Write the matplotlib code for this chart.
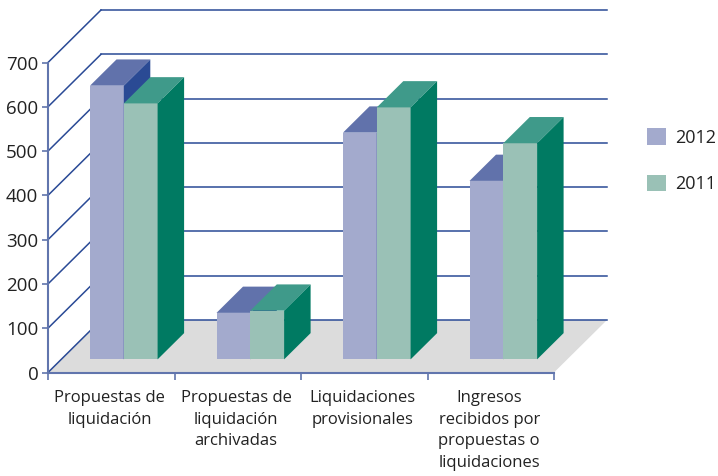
import matplotlib
matplotlib.use("Agg")
import matplotlib.pyplot as plt
from matplotlib.patches import Polygon, Patch

plt.rcParams['font.family'] = ['Open Sans', 'DejaVu Sans']

CATEGORIES = [
    "Propuestas de\nliquidación",
    "Propuestas de\nliquidación\narchivadas",
    "Liquidaciones\nprovisionales",
    "Ingresos\nrecibidos por\npropuestas o\nliquidaciones",
]
VALUES_2012 = [618, 105, 512, 403]
VALUES_2011 = [578, 110, 569, 488]
Y_TICKS = [0, 100, 200, 300, 400, 500, 600, 700]

FIG_W, FIG_H = 718, 476
LEFT, RIGHT, BOTTOM, TOP = 48.0, 554.0, 372.5, 62.5

# depth of the fake 3d box, in data units
PX_X = (RIGHT - LEFT) / 4
PX_Y = (BOTTOM - TOP) / 700
DEPTH_X = 53 / PX_X
DEPTH_Y = 52.5 / PX_Y

BAR_W = 33.8 / PX_X
BAR_START = (42 - 13.25) / PX_X

AXIS_BLUE = "#6175ad"
GRID_BLUE = "#2a4a96"
TEXT = "#222222"

STYLE_2012 = ("#a3aacd", "#6172ab", "#2a4a94")
STYLE_2011 = ("#9ac1b6", "#3f9a8a", "#007a62")


def shift(x, y, d):
    return x + d * DEPTH_X, y + d * DEPTH_Y


def draw_bar(ax, x, value, colors, z):
    front, top, side = colors
    d0, d1 = 0.25, 0.75
    x0, y0 = shift(x, 0, d0)
    x1 = x0 + BAR_W
    y1 = y0 + value
    xb0, yb0 = shift(x, 0, d1)
    xb1 = xb0 + BAR_W
    yb1 = yb0 + value
    ax.add_patch(Polygon([(x0, y0), (x1, y0), (x1, y1), (x0, y1)], fc=front, ec="none", zorder=z, clip_on=False))
    ax.add_patch(Polygon([(x0, y1), (x1, y1), (xb1, yb1), (xb0, yb1)], fc=top, ec="none", zorder=z, clip_on=False))
    ax.add_patch(Polygon([(x1, y0), (xb1, yb0), (xb1, yb1), (x1, y1)], fc=side, ec="none", zorder=z, clip_on=False))


fig = plt.figure(figsize=(FIG_W / 100, FIG_H / 100), dpi=100)
ax = fig.add_axes([LEFT / FIG_W, 1 - BOTTOM / FIG_H, (RIGHT - LEFT) / FIG_W, (BOTTOM - TOP) / FIG_H])
ax.set_xlim(0, len(CATEGORIES))
ax.set_ylim(0, 700)
ax.patch.set_visible(False)

# floor
ax.add_patch(Polygon(
    [(0, 0), (4, 0), shift(4, 0, 1), shift(0, 0, 1)],
    fc="#dcdcdc", ec="none", zorder=1, clip_on=False,
))

# wall grid
for v in Y_TICKS:
    xb, yb = shift(0, v, 1)
    xe, _ = shift(4, v, 1)
    ax.plot([0, xb], [v, yb], color=GRID_BLUE, lw=1.1, zorder=2, clip_on=False)
    ax.plot([xb, xe], [yb, yb], color=GRID_BLUE, lw=1.1, zorder=2, clip_on=False)

# bars, back to front, left to right
for i in range(len(CATEGORIES)):
    x = i + BAR_START
    draw_bar(ax, x, VALUES_2012[i], STYLE_2012, 3 + i * 2)
    draw_bar(ax, x + BAR_W, VALUES_2011[i], STYLE_2011, 4 + i * 2)

for s in ["top", "right"]:
    ax.spines[s].set_visible(False)
for s in ["left", "bottom"]:
    ax.spines[s].set_color(AXIS_BLUE)
    ax.spines[s].set_linewidth(1.5)
    ax.spines[s].set_zorder(20)

ax.set_yticks(Y_TICKS)
ax.tick_params(axis="y", length=4, width=1.2, color=AXIS_BLUE, labelcolor=TEXT, labelsize=13.5, pad=3)
ax.set_xticks(range(len(CATEGORIES) + 1))
ax.set_xticks([i + 0.488 for i in range(len(CATEGORIES))], minor=True)
ax.set_xticklabels([])
ax.set_xticklabels(CATEGORIES, minor=True, fontsize=12, color=TEXT, linespacing=1.47, va="top")
ax.tick_params(axis="x", which="major", length=5, width=1.2, color=AXIS_BLUE)
ax.tick_params(axis="x", which="minor", length=0, pad=12.5)

handles = [Patch(fc=STYLE_2012[0], ec="none", label="2012"), Patch(fc=STYLE_2011[0], ec="none", label="2011")]
fig.legend(
    handles=handles, loc="upper left", bbox_to_anchor=(647 / FIG_W, 1 - 128 / FIG_H), frameon=False,
    fontsize=13, labelcolor=TEXT, handlelength=1.05, handleheight=1.05, handletextpad=0.5,
    labelspacing=1.55, borderpad=0, borderaxespad=0,
)

fig.savefig("out.png", dpi=100)
